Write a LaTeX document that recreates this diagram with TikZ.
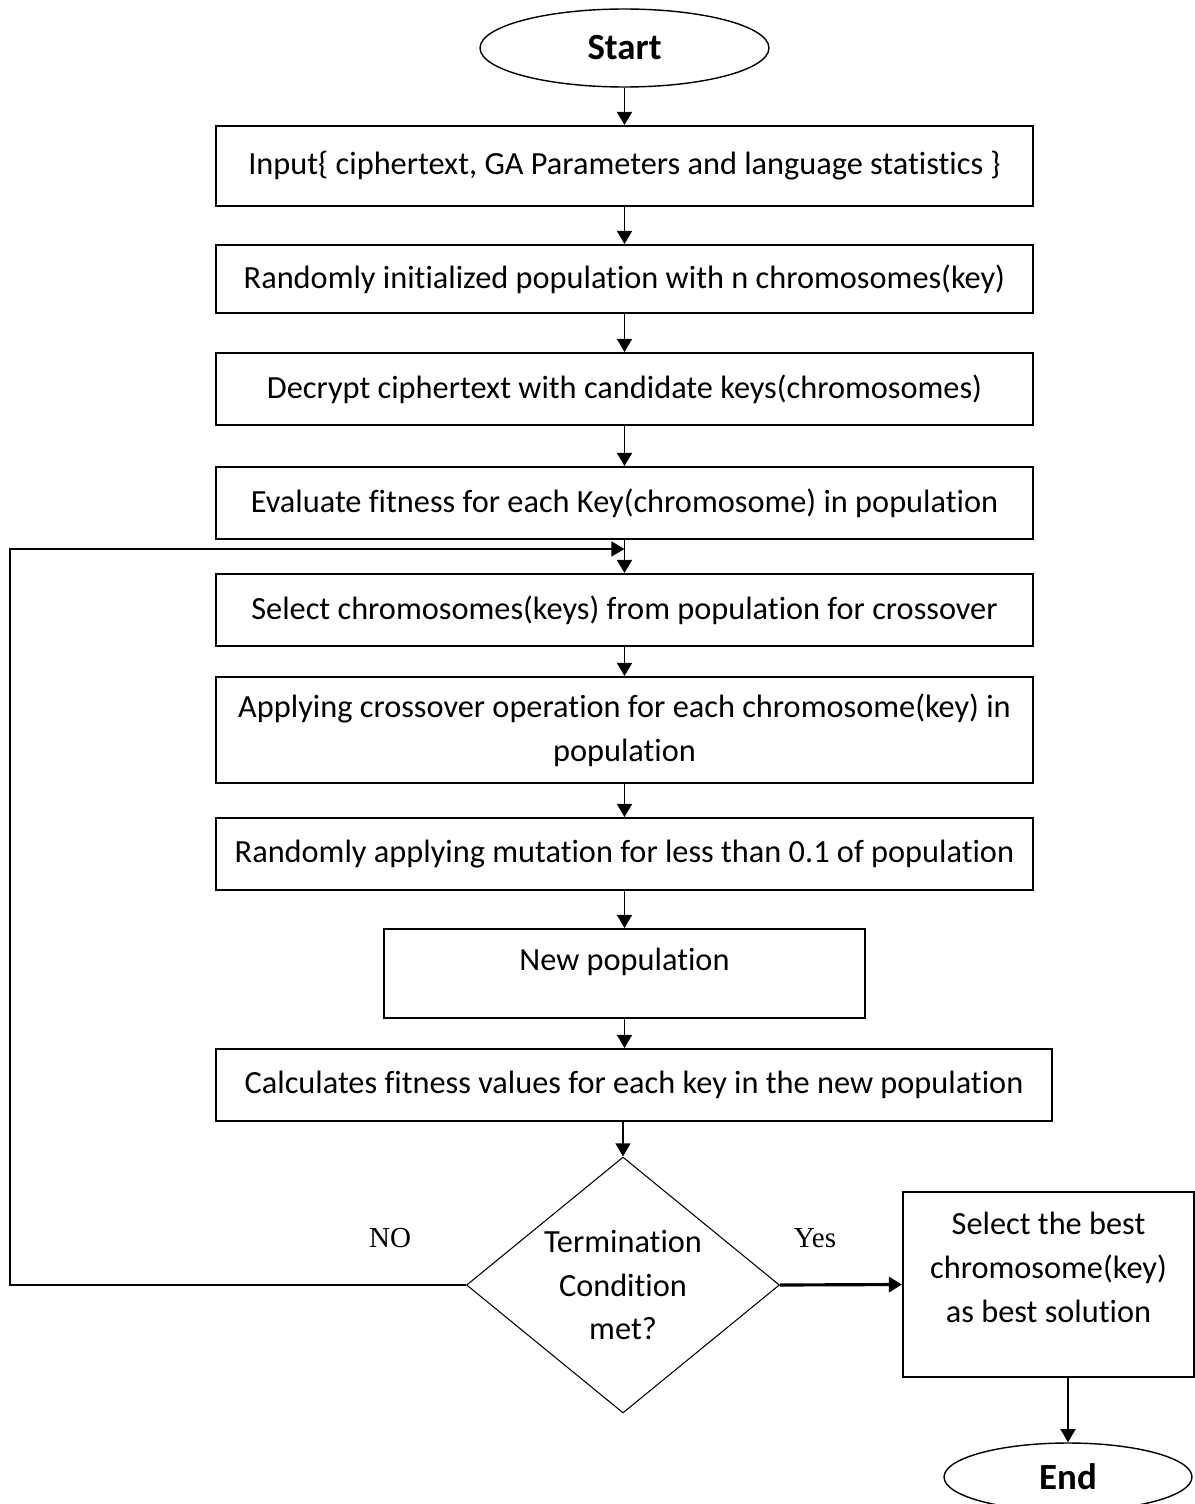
\documentclass[tikz,border=0pt]{standalone}
\usepackage{fontspec}
\setmainfont{Carlito}[Ligatures=NoCommon]
\newfontfamily\yesnofont{Liberation Serif}
\usetikzlibrary{arrows.meta,calc,shapes.geometric}

\begin{document}
\begin{tikzpicture}[x=0.02cm,y=-0.02cm,->,>={Triangle[length=7.5pt,width=8.5pt]},
  line width=1.1pt,
  proc node/.style={rectangle,draw,inner sep=0pt,minimum width=16.34cm,font=\fontsize{18.4}{25}\selectfont,align=center},
  term node/.style={ellipse,draw,line width=0.8pt,inner sep=0pt,font=\fontsize{21}{24}\selectfont\bfseries},
  dec node/.style={diamond,draw,line width=0.6pt,aspect=1.22,inner sep=0pt,font=\fontsize{18.4}{25}\selectfont,align=center},
  label node/.style={font=\yesnofont\fontsize{16.5}{20}\selectfont}]

\useasboundingbox (0,0) rectangle (1195,1504);

\node[term node,minimum width=5.78cm,minimum height=1.56cm](start) at (624.5,48) {Start};
\node[proc node,minimum height=1.6cm](input) at (624.5,166) {Input\{ ciphertext, GA Parameters and language statistics \}};
\node[proc node,minimum height=1.36cm](init) at (624.5,279) {Randomly initialized population with n chromosomes(key)};
\node[proc node,minimum height=1.44cm](decrypt) at (624.5,389) {Decrypt ciphertext with candidate keys(chromosomes)};
\node[proc node,minimum height=1.44cm](eval) at (624.5,503) {Evaluate fitness for each Key(chromosome) in population};
\node[proc node,minimum height=1.44cm](select) at (624.5,610) {Select chromosomes(keys) from population for crossover};
\node[proc node,minimum height=2.12cm](cross) at (624.5,730) {Applying crossover operation for each chromosome(key) in\\population};
\node[proc node,minimum height=1.44cm](mutate) at (624.5,854) {Randomly applying mutation for less than 0.1 of population};
\node[proc node,minimum width=9.64cm,minimum height=1.78cm,text height=0.44cm,text depth=0.56cm](newpop) at (624.5,973.5) {New population};
\node[proc node,minimum width=16.72cm,minimum height=1.44cm](fitness) at (634,1085) {Calculates fitness values for each key in the new population};
\node[dec node,minimum width=6.26cm,minimum height=5.12cm](cond) at (623,1285) {Termination\\Condition\\met?};
\node[proc node,minimum width=5.82cm,minimum height=3.7cm](best) at (1048.5,1284.5) {\begin{tabular}{@{}c@{}}Select the best\\chromosome(key)\\as best solution\\[0.6cm]\end{tabular}};
\node[term node,minimum width=4.96cm,minimum height=1.36cm](stop) at (1068,1477) {End};
\node[label node](no) at (390,1238) {NO};
\node[label node](yes) at (815,1238) {Yes};

\coordinate (merge) at (624.5,549);
\coordinate (corner) at (10,1285);

\path
(start) edge (input)
(input) edge (init)
(init) edge (decrypt)
(decrypt) edge (eval)
(eval) edge (select)
(select) edge (cross)
(cross) edge (mutate)
(mutate) edge (newpop)
(newpop) edge (newpop |- fitness.north)
(fitness.south -| cond.north) edge (cond.north)
(cond.east) edge[line width=1.8pt] (best.west)
(best.south -| stop.north) edge (stop.north);

% loop back for another generation
\draw (cond.west) -- (corner) |- (merge);
\end{tikzpicture}
\end{document}
